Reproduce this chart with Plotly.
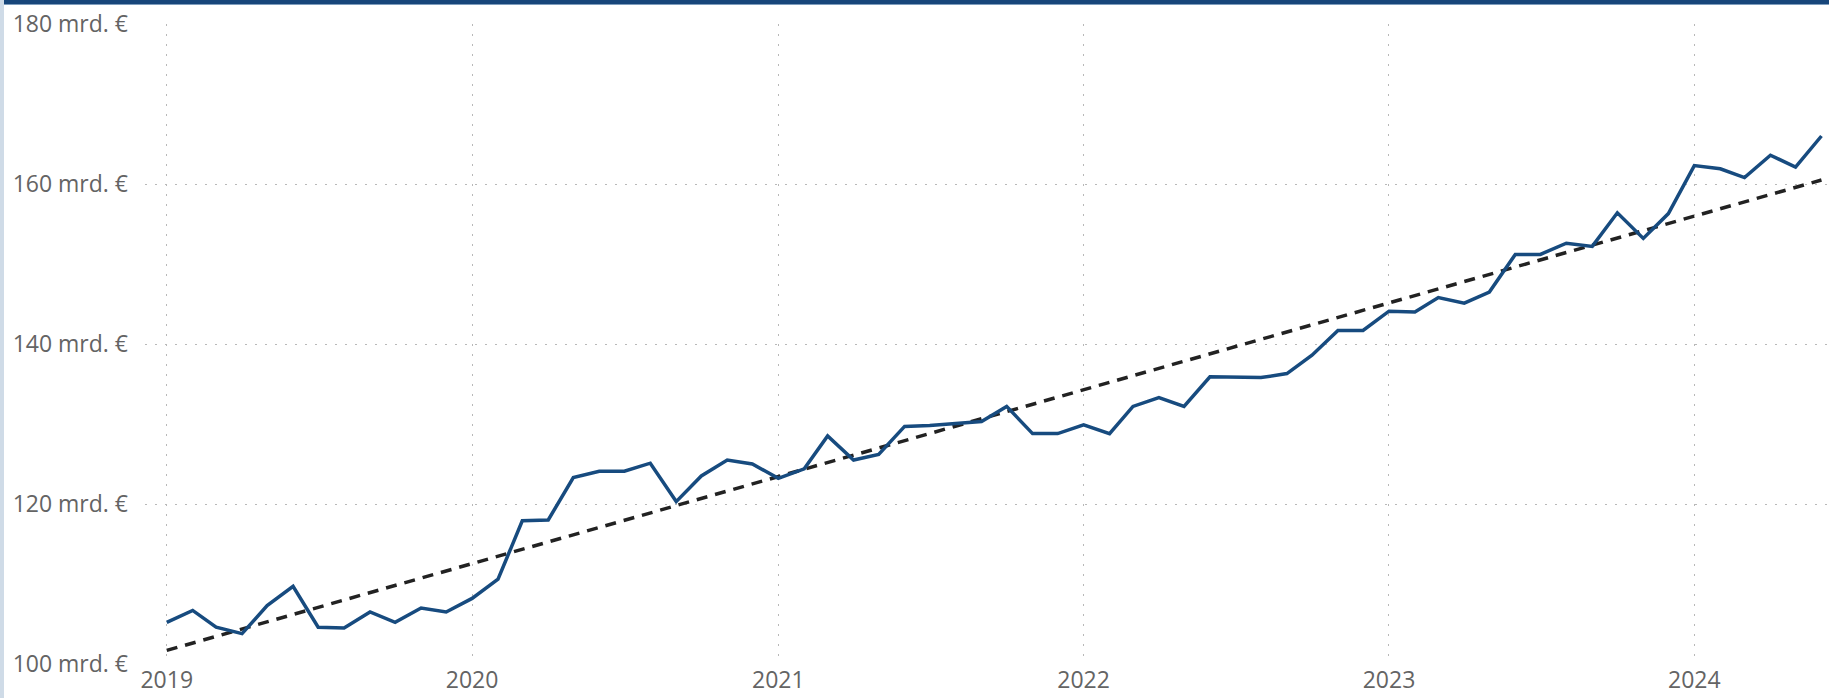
import plotly.graph_objects as go

# ---- data ----
months = [f"{y}-{m:02d}-01" for y in range(2019, 2025) for m in range(1, 13)][:66]

values = [
    105.2, 106.7, 104.6, 103.8, 107.3, 109.7, 104.6, 104.5, 106.5, 105.2, 107.0, 106.5,   # 2019
    108.2, 110.6, 117.9, 118.0, 123.3, 124.1, 124.1, 125.1, 120.3, 123.5, 125.5, 125.0,   # 2020
    123.2, 124.4, 128.5, 125.5, 126.2, 129.7, 129.8, 130.1, 130.3, 132.2, 128.8, 128.8,   # 2021
    129.9, 128.8, 132.2, 133.3, 132.2, 135.9, 135.8, 135.8, 136.3, 138.6, 141.7, 141.7,   # 2022
    144.1, 144.0, 145.8, 145.1, 146.5, 151.2, 151.2, 152.6, 152.2, 156.4, 153.2, 156.3,   # 2023
    162.3, 161.9, 160.8, 163.6, 162.1, 166.0,                                             # 2024
]

trend_x = ["2019-01-01", "2024-06-01"]
trend_y = [101.7, 160.5]

y_tickvals = [100, 120, 140, 160, 180]
y_ticktext = ["100 mrd. €", "120 mrd. €", "140 mrd. €", "160 mrd. €", "180 mrd. €"]

# ---- figure ----
fig = go.Figure()

fig.add_trace(go.Scatter(
    x=trend_x, y=trend_y, mode="lines",
    line=dict(color="#222222", width=3.5, dash="11px,8px"),
    hoverinfo="skip",
))
fig.add_trace(go.Scatter(
    x=months, y=values, mode="lines",
    line=dict(color="#174b7f", width=3.5),
))

W, H = 1829, 698
L, R, T, B = 145, 0, 24, 34
pw, ph = W - L - R, H - T - B

grid = dict(showgrid=True, gridcolor="#b8b8b8", gridwidth=1, griddash="2px,8px")
font = dict(family="Open Sans, Noto Sans, sans-serif", size=23, color="#646464")

fig.update_layout(
    width=W, height=H,
    margin=dict(l=L, r=R, t=T, b=B, pad=0),
    paper_bgcolor="white", plot_bgcolor="white",
    showlegend=False,
    font=font,
    xaxis=dict(
        type="date",
        range=["2018-12-06", "2024-06-10"],
        tick0="2019-01-01", dtick="M12", tickformat="%Y",
        showline=False, zeroline=False, ticks="",
        tickfont=font,
        **grid,
    ),
    yaxis=dict(
        range=[100, 180],
        tickvals=y_tickvals, ticktext=y_ticktext,
        showline=False, zeroline=False, ticks="",
        ticklabelstandoff=16,
        tickfont=font,
        **grid,
    ),
    shapes=[
        # top dark bar
        dict(type="rect", xref="paper", yref="paper",
             x0=-(L - 4) / pw, x1=1, y0=1 + (T - 4) / ph, y1=1 + T / ph,
             fillcolor="#17467a", line=dict(width=0), layer="above"),
        dict(type="rect", xref="paper", yref="paper",
             x0=-(L - 4) / pw, x1=1, y0=1 + (T - 5) / ph, y1=1 + (T - 4) / ph,
             fillcolor="#7e9dbd", line=dict(width=0), layer="above"),
        # left light strip
        dict(type="rect", xref="paper", yref="paper",
             x0=-L / pw, x1=-(L - 4) / pw, y0=-B / ph, y1=1 + T / ph,
             fillcolor="#cfdbe7", line=dict(width=0), layer="above"),
    ],
)

fig.write_html(
    "out.html",
    config={"displayModeBar": False},
    post_script="document.body.style.margin='0';document.body.style.padding='0';",
)
